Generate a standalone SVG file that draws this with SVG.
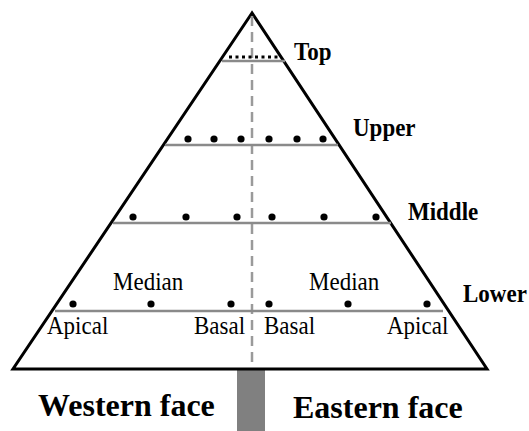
<svg xmlns="http://www.w3.org/2000/svg" width="529" height="431" viewBox="0 0 529 431">
<style>
.lvl{stroke:#8a8a8a;stroke-width:2.5;fill:none}
.dot{fill:#000}
.b{font-family:"Liberation Serif",serif;font-weight:bold;font-size:23px;fill:#000}
.r{font-family:"Liberation Serif",serif;font-size:23px;fill:#000}
.f{font-family:"Liberation Serif",serif;font-weight:bold;font-size:32px;fill:#000}
</style>
<rect width="529" height="431" fill="#fff"/>
<g id="trunk"><rect x="237" y="369" width="28" height="62" fill="#808080"/></g>
<g id="pyramid"><polygon points="252,13 13,369 487,369" fill="none" stroke="#000" stroke-width="3" stroke-linejoin="miter"/></g>
<g id="connectors">
<line x1="252" y1="16" x2="252" y2="368" stroke="#9a9a9a" stroke-width="2.5" stroke-dasharray="10 6"/>
</g>
<g id="top">
<line class="lvl" x1="222" y1="61" x2="285" y2="61"/>
<line x1="229" y1="57" x2="279" y2="57" stroke="#000" stroke-width="3" stroke-dasharray="3 3.5"/>
<text class="b" transform="translate(294,60) scale(1,1.12)">Top</text>
</g>
<g id="upper">
<line class="lvl" x1="165" y1="145" x2="338" y2="145"/>
<circle class="dot" cx="188" cy="139" r="3.6"/><circle class="dot" cx="214" cy="139" r="3.6"/><circle class="dot" cx="241" cy="139" r="3.6"/>
<circle class="dot" cx="269" cy="139" r="3.6"/><circle class="dot" cx="297" cy="139" r="3.6"/><circle class="dot" cx="323" cy="139" r="3.6"/>
<text class="b" transform="translate(353,136) scale(1,1.12)">Upper</text>
</g>
<g id="middle">
<line class="lvl" x1="113" y1="223" x2="391" y2="223"/>
<circle class="dot" cx="133" cy="217" r="3.6"/><circle class="dot" cx="186" cy="217" r="3.6"/><circle class="dot" cx="237" cy="217" r="3.6"/>
<circle class="dot" cx="272" cy="217" r="3.6"/><circle class="dot" cx="324" cy="217" r="3.6"/><circle class="dot" cx="376" cy="217" r="3.6"/>
<text class="b" transform="translate(408,220) scale(1,1.12)">Middle</text>
</g>
<g id="lower">
<line class="lvl" x1="55" y1="311" x2="443" y2="311"/>
<circle class="dot" cx="73" cy="304" r="3.6"/><circle class="dot" cx="151" cy="304" r="3.6"/><circle class="dot" cx="231" cy="304" r="3.6"/>
<circle class="dot" cx="269" cy="304" r="3.6"/><circle class="dot" cx="348" cy="304" r="3.6"/><circle class="dot" cx="427" cy="304" r="3.6"/>
<text class="b" transform="translate(463,302) scale(1,1.12)">Lower</text>
<text class="r" transform="translate(113,290) scale(1,1.12)">Median</text>
<text class="r" transform="translate(309,290) scale(1,1.12)">Median</text>
<text class="r" transform="translate(47,334) scale(1,1.12)">Apical</text>
<text class="r" transform="translate(194,334) scale(1,1.12)">Basal</text>
<text class="r" transform="translate(264,334) scale(1,1.12)">Basal</text>
<text class="r" transform="translate(387,334) scale(1,1.12)">Apical</text>
</g>
<g id="faces">
<text class="f" x="38" y="416">Western face</text>
<text class="f" x="293" y="418">Eastern face</text>
</g>
</svg>
